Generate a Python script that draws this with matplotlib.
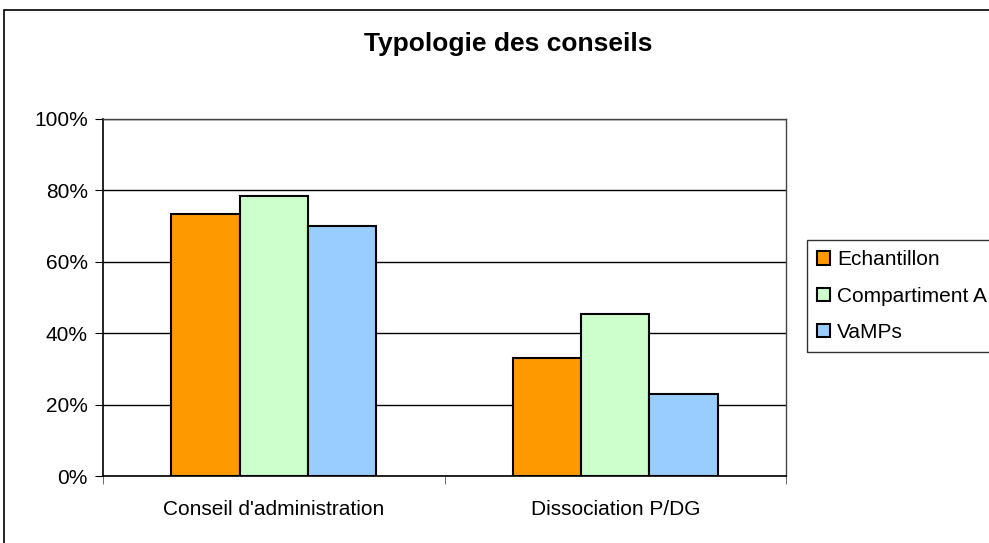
import matplotlib
matplotlib.use("Agg")
import matplotlib.pyplot as plt
import numpy as np
from matplotlib.patches import Rectangle

categories = ["Conseil d'administration", "Dissociation P/DG"]
series_names = ["Echantillon", "Compartiment A", "VaMPs"]
echantillon = [73.4, 33.1]
compartiment_a = [78.4, 45.3]
vamps = [69.9, 22.9]
colors = ["#FF9900", "#CCFFCC", "#99CCFF"]
y_ticks = [0, 20, 40, 60, 80, 100]
y_tick_labels = ["0%", "20%", "40%", "60%", "80%", "100%"]

plt.rcParams['font.family'] = ['Liberation Sans', 'DejaVu Sans']

W, H = 989, 543
fig = plt.figure(figsize=(W / 100, H / 100), dpi=100)
fig.patch.set_facecolor("white")

# outer chart border (cut by image edges)
fig.patches.append(Rectangle((4 / W, -0.1), 1.2, 1 - 10 / H + 0.1, transform=fig.transFigure,
                             fill=False, edgecolor="black", linewidth=1.2))

ax = fig.add_axes([103 / W, 1 - 476 / H, (786 - 103) / W, (476 - 119) / H])
x = np.arange(len(categories))
bw = 0.2
data = [echantillon, compartiment_a, vamps]
for i, (vals, name, c) in enumerate(zip(data, series_names, colors)):
    ax.bar(x + (i - 1) * bw, vals, width=bw, color=c, edgecolor="black",
           linewidth=1.5, label=name, zorder=3)

ax.set_xlim(-0.5, 1.5)
ax.set_ylim(0, 100)
ax.set_yticks(y_ticks)
ax.set_yticklabels(y_tick_labels, fontsize=15)
ax.yaxis.grid(True, color="black", linewidth=1)
ax.set_axisbelow(True)
ax.set_xticks(x)
ax.set_xticklabels(categories, fontsize=15)
ax.tick_params(axis='x', length=0, pad=17)
ax.set_xticks([-0.5, 0.5, 1.5], minor=True)
ax.tick_params(axis='x', which='minor', length=6, direction='out', color='#555555')
ax.tick_params(axis='y', length=6, direction='out', pad=5)
for s in ["left", "bottom"]:
    ax.spines[s].set_color("black")
    ax.spines[s].set_linewidth(1.2)
for s in ["right", "top"]:
    ax.spines[s].set_color("#444444")
    ax.spines[s].set_linewidth(1)

fig.text(508 / W, 1 - 44 / H, "Typologie des conseils", ha="center", va="center",
         fontsize=19, fontweight="bold")

leg = fig.legend(loc="upper left", bbox_to_anchor=(807 / W, 1 - 240 / H),
                 frameon=True, fancybox=False, edgecolor="black", fontsize=15,
                 handlelength=0.6, handleheight=0.6, handletextpad=0.35,
                 labelspacing=0.82, borderpad=0.5, borderaxespad=0)
leg.get_frame().set_linewidth(1)

fig.savefig("out.png", dpi=100)
